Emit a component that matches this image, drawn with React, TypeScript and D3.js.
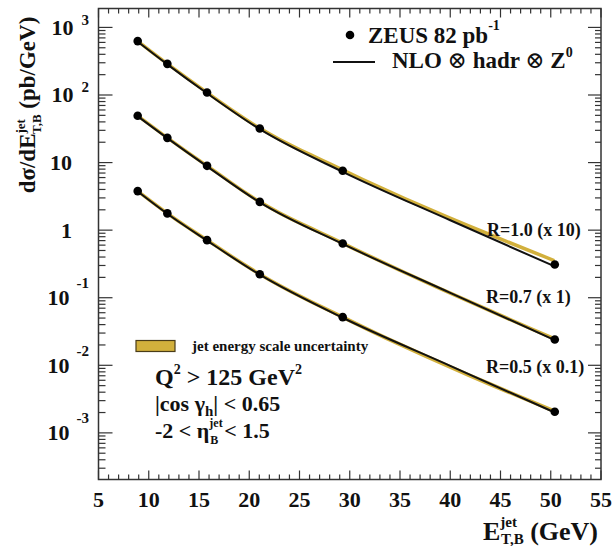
import React from "react";
import * as d3 from "d3";

// ---- data ----
const X_VALUES = [8.9, 11.85, 15.8, 21.05, 29.3, 50.4];
const DATA_R10 = [627, 289, 109, 32, 7.55, 0.31];
const DATA_R07 = [49.2, 23.2, 8.95, 2.62, 0.636, 0.0241];
const DATA_R05 = [3.78, 1.77, 0.711, 0.223, 0.0516, 0.00205];

const NLO_X = [8.9, 11.85, 15.8, 21.05, 29.3, 40, 50.4];
const NLO_R10 = [615, 284, 106, 31.2, 7.3, 1.4, 0.29];
const NLO_R07 = [48.5, 23, 8.8, 2.58, 0.625, 0.118, 0.0236];
const NLO_R05 = [3.75, 1.75, 0.7, 0.219, 0.0505, 0.0098, 0.002];

const BAND_LO_R10 = [585, 270, 102, 30, 7.2, 0.33];
const BAND_HI_R10 = [672, 310, 117, 34.4, 8.3, 0.375];
const BAND_LO_R07 = [46, 21.7, 8.35, 2.45, 0.6, 0.0229];
const BAND_HI_R07 = [52.7, 24.9, 9.6, 2.81, 0.685, 0.0262];
const BAND_LO_R05 = [3.53, 1.65, 0.665, 0.208, 0.0482, 0.00194];
const BAND_HI_R05 = [4.05, 1.9, 0.762, 0.239, 0.0553, 0.00223];

const SERIES_LABELS = ["R=1.0 (x 10)", "R=0.7 (x 1)", "R=0.5 (x 0.1)"];
const X_TICKS = [5, 10, 15, 20, 25, 30, 35, 40, 45, 50, 55];
const Y_EXPONENTS = [-3, -2, -1, 0, 1, 2, 3];

const W = 615;
const H = 546;
const L = 98.5;
const R = 601;
const T = 8.5;
const B = 479.5;

const FONT = '"Liberation Serif", "DejaVu Serif", serif';
const GOLD = "#d2b03c";

export default function App() {
  const x = d3.scaleLinear().domain([5, 55]).range([L, R]);
  const y = d3
    .scaleLog()
    .domain([Math.pow(10, -3.69), Math.pow(10, 3.28)])
    .range([B, T]);

  const series = [
    { data: DATA_R10, nlo: NLO_R10, lo: BAND_LO_R10, hi: BAND_HI_R10 },
    { data: DATA_R07, nlo: NLO_R07, lo: BAND_LO_R07, hi: BAND_HI_R07 },
    { data: DATA_R05, nlo: NLO_R05, lo: BAND_LO_R05, hi: BAND_HI_R05 },
  ];

  const bandPath = (lo: number[], hi: number[]) =>
    d3
      .area<number>()
      .x((_, i) => x(X_VALUES[i]))
      .y0((_, i) => y(lo[i]))
      .y1((_, i) => y(hi[i]))
      .curve(d3.curveMonotoneX)(lo) || "";

  const nloPath = (v: number[]) =>
    d3
      .line<number>()
      .x((_, i) => x(NLO_X[i]))
      .y((d) => y(d))
      .curve(d3.curveMonotoneX)(v) || "";

  const xMinor = d3.range(5, 56, 1);
  const yMinor: number[] = [];
  const [d0, d1] = y.domain();
  for (let e = -4; e <= 3; e++) {
    for (let k = 2; k <= 9; k++) {
      const v = k * Math.pow(10, e);
      if (v > d0 && v < d1) yMinor.push(v);
    }
  }

  const ax = "#333";
  const ts = { fontFamily: FONT, fontWeight: 700 as const };

  return (
    <svg
      width={W}
      height={H}
      style={{ position: "absolute", left: 0, top: 0, background: "#fff", fontFamily: FONT, fontWeight: 700 }}
    >
      {series.map((s, i) => (
        <path key={"b" + i} d={bandPath(s.lo, s.hi)} fill={GOLD} stroke="none" />
      ))}
      {series.map((s, i) => (
        <path key={"n" + i} d={nloPath(s.nlo)} fill="none" stroke="#111" strokeWidth={2} />
      ))}
      {series.map((s, i) =>
        s.data.map((d, j) => (
          <circle key={"p" + i + "-" + j} cx={x(X_VALUES[j])} cy={y(d)} r={4.3} fill="#000" />
        ))
      )}

      <rect x={L} y={T} width={R - L} height={B - T} fill="none" stroke={ax} strokeWidth={1.5} />

      {xMinor.map((v) => {
        const major = X_TICKS.includes(v);
        const len = major ? 9 : 5;
        return (
          <g key={"xt" + v}>
            <line x1={x(v)} x2={x(v)} y1={B} y2={B - len} stroke={ax} strokeWidth={1.2} />
            <line x1={x(v)} x2={x(v)} y1={T} y2={T + len} stroke={ax} strokeWidth={1.2} />
          </g>
        );
      })}
      {Y_EXPONENTS.map((e) => {
        const yy = y(Math.pow(10, e));
        return (
          <g key={"ym" + e}>
            <line x1={L} x2={L + 14} y1={yy} y2={yy} stroke={ax} strokeWidth={1.2} />
            <line x1={R} x2={R - 13} y1={yy} y2={yy} stroke={ax} strokeWidth={1.2} />
          </g>
        );
      })}
      {yMinor.map((v, i) => {
        const yy = y(v);
        return (
          <g key={"yn" + i}>
            <line x1={L} x2={L + 7} y1={yy} y2={yy} stroke={ax} strokeWidth={1.2} />
            <line x1={R} x2={R - 6} y1={yy} y2={yy} stroke={ax} strokeWidth={1.2} />
          </g>
        );
      })}

      {X_TICKS.map((v) => (
        <text key={"xl" + v} style={ts} x={x(v)} y={507} fontSize={22} textAnchor="middle" fill="#111">
          {v}
        </text>
      ))}

      {Y_EXPONENTS.map((e) => {
        const yy = y(Math.pow(10, e));
        if (e === 0 || e === 1)
          return (
            <text key={"yl" + e} style={ts} x={72} y={yy + 7.5} fontSize={22} textAnchor="end" fill="#111">
              {e === 0 ? "1" : "10"}
            </text>
          );
        const neg = e < 0;
        return (
          <text key={"yl" + e} style={ts} x={89} y={yy + 7.5} fontSize={22} textAnchor="end" fill="#111">
            10
            <tspan fontSize={15} dx={neg ? 7 : 8} dy={neg ? -17 : -10}>
              {neg ? "-" + Math.abs(e) : String(e)}
            </tspan>
          </text>
        );
      })}

      <text style={ts} transform="translate(35,105) rotate(-90)" textAnchor="middle" fontSize={23} fill="#111">
        dσ/dE
        <tspan fontSize={13} dy={-10}>jet</tspan>
        <tspan fontSize={13} dx={-15} dy={16}>T,B</tspan>
        <tspan fontSize={23} dy={-6}> (pb/GeV)</tspan>
      </text>

      <text style={ts} x={483} y={540} fontSize={26} fill="#111">
        E
        <tspan fontSize={15} dy={-13}>jet</tspan>
        <tspan fontSize={15} dx={-16} dy={17}>T,B</tspan>
        <tspan fontSize={26} dy={-4}> (GeV)</tspan>
      </text>

      <circle cx={350} cy={35} r={4.3} fill="#000" />
      <text style={ts} x={368} y={43} fontSize={23} fill="#111">
        ZEUS 82 pb
        <tspan fontSize={14} dy={-13}>-1</tspan>
      </text>
      <line x1={333} x2={375} y1={62} y2={62} stroke="#111" strokeWidth={2} />
      <text style={ts} x={392} y={68} fontSize={23} fill="#111">
        NLO <tspan fontWeight={400}>⊗</tspan> hadr <tspan fontWeight={400}>⊗</tspan> Z
        <tspan fontSize={14} dy={-11}>0</tspan>
      </text>

      <text style={ts} x={487} y={236} fontSize={18} fill="#111">{SERIES_LABELS[0]}</text>
      <text style={ts} x={486} y={303} fontSize={18} fill="#111">{SERIES_LABELS[1]}</text>
      <text style={ts} x={486} y={373} fontSize={18} fill="#111">{SERIES_LABELS[2]}</text>

      <rect x={136} y={340.5} width={39} height={11} fill={GOLD} stroke="#4a3c18" strokeWidth={1.2} />
      <text style={ts} x={192} y={351} fontSize={15} fill="#111">jet energy scale uncertainty</text>

      <text style={ts} x={155} y={385} fontSize={24} fill="#111">
        Q<tspan fontSize={14} dy={-11}>2</tspan>
        <tspan dy={11}> &gt; 125 GeV</tspan>
        <tspan fontSize={14} dy={-11}>2</tspan>
      </text>
      <text style={ts} x={155} y={411} fontSize={22} fill="#111">
        |cos γ<tspan fontSize={15} dy={5}>h</tspan>
        <tspan dy={-5}>| &lt; 0.65</tspan>
      </text>
      <text style={ts} x={155} y={438} fontSize={22} fill="#111">
        -2 &lt; η<tspan fontSize={12} dy={-11}>jet</tspan>
        <tspan fontSize={12} dx={-12.5} dy={17}>B</tspan>
        <tspan dx={6} dy={-6}>&lt; 1.5</tspan>
      </text>
    </svg>
  );
}
